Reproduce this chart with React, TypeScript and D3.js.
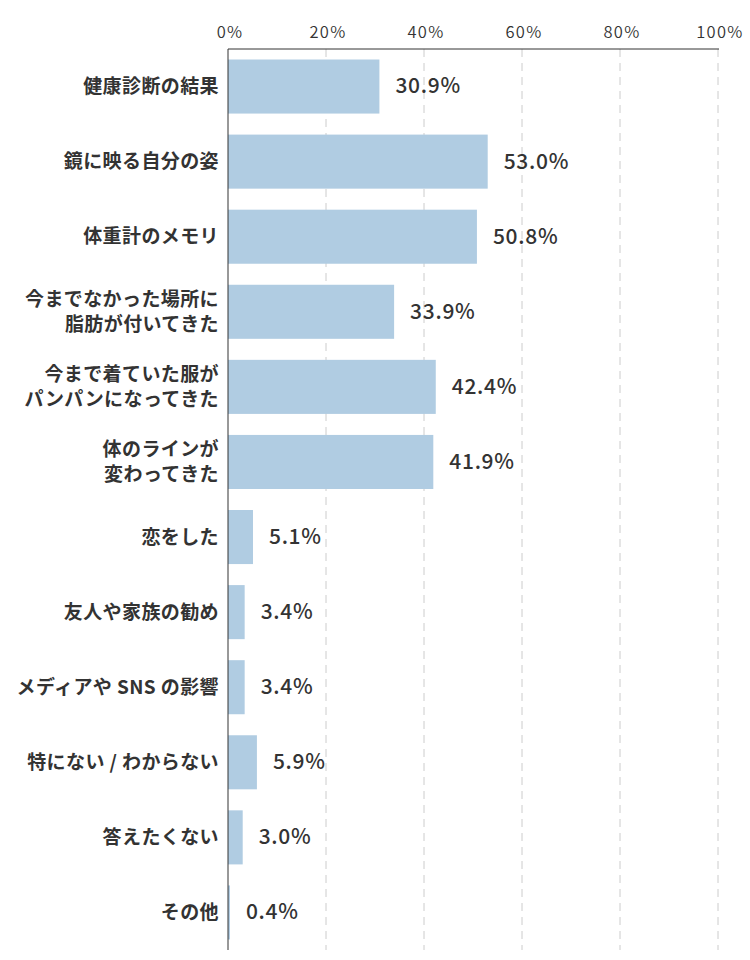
import React from "react";
import * as d3 from "d3";

const categories: string[][] = [
  ["健康診断の結果"],
  ["鏡に映る自分の姿"],
  ["体重計のメモリ"],
  ["今までなかった場所に", "脂肪が付いてきた"],
  ["今まで着ていた服が", "パンパンになってきた"],
  ["体のラインが", "変わってきた"],
  ["恋をした"],
  ["友人や家族の勧め"],
  ["メディアや SNS の影響"],
  ["特にない / わからない"],
  ["答えたくない"],
  ["その他"],
];
const values: number[] = [30.9, 53.0, 50.8, 33.9, 42.4, 41.9, 5.1, 3.4, 3.4, 5.9, 3.0, 0.4];
const ticks: number[] = [0, 20, 40, 60, 80, 100];

const W = 750;
const H = 960;
const left = 228;
const right = 718;
const top = 49;
const bottom = 950;
const font = "'Noto Sans CJK JP', 'Noto Sans', sans-serif";

export default function App() {
  const x = d3.scaleLinear().domain([0, 100]).range([left, right]);
  const y = d3
    .scaleBand<number>()
    .domain(values.map((_, i) => i))
    .range([top, bottom])
    .paddingInner(0.28)
    .paddingOuter(0.14);

  return (
    <svg width={W} height={H} style={{ position: "absolute", left: 0, top: 0 }} fontFamily={font}>
      {ticks.map((t) => (
        <g key={t}>
          {t > 0 && (
            <line x1={x(t)} x2={x(t)} y1={top} y2={bottom} stroke="#cccccc" strokeWidth={1} strokeDasharray="8 6" />
          )}
          <text
            x={x(t) + 2}
            y={38}
            textAnchor="middle"
            fontSize={16.5}
            fontWeight={350}
            letterSpacing={1.3}
            fill="#333"
          >
            {t}%
          </text>
        </g>
      ))}
      {values.map((v, i) => {
        const yy = y(i)!;
        const bw = y.bandwidth();
        const cy = yy + bw / 2;
        const lines = categories[i];
        const lh = 25;
        return (
          <g key={i}>
            <rect x={x(0)} y={yy} width={x(v) - x(0)} height={bw} fill="#b0cce2" />
            <text x={x(v) + 16} y={cy} dy="0.33em" fontSize={21} fontWeight={500} letterSpacing={0.7} fill="#333">
              {v.toFixed(1)}%
            </text>
            <text textAnchor="end" fontSize={19} fontWeight={700} letterSpacing={0.4} fill="#333">
              {lines.map((l, j) => (
                <tspan key={j} x={219} y={cy + (j - (lines.length - 1) / 2) * lh} dy="0.35em">
                  {l}
                </tspan>
              ))}
            </text>
          </g>
        );
      })}
      <line x1={left} x2={right + 1} y1={top} y2={top} stroke="#333" strokeWidth={1} />
      <line x1={left} x2={left} y1={top} y2={bottom} stroke="#333" strokeWidth={1} />
    </svg>
  );
}
